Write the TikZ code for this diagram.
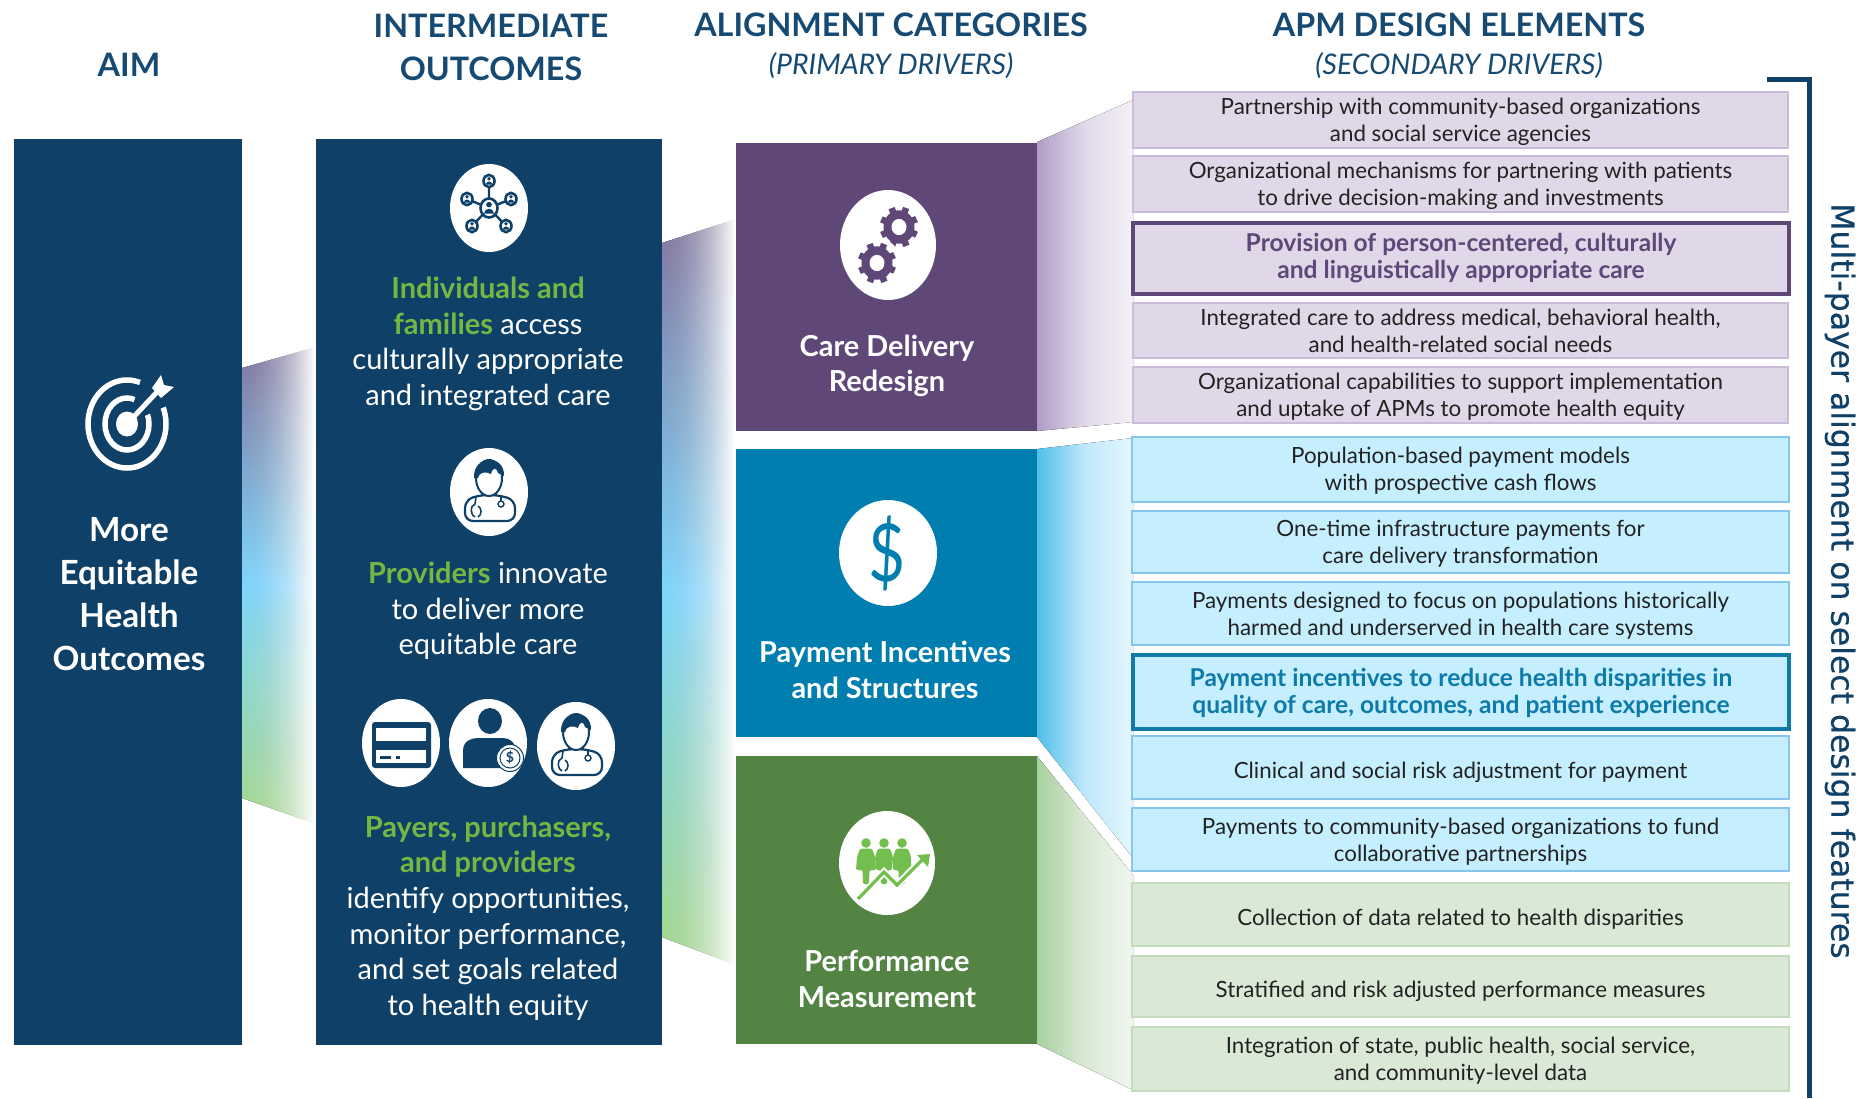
\documentclass[tikz,border=0pt]{standalone}
\usepackage{fontspec}
\setmainfont{Lato}
\newfontfamily\rotfont[FakeBold=0.5]{DejaVu Sans}
\usetikzlibrary{calc}
\definecolor{navy}{HTML}{0F4067}
\definecolor{headc}{HTML}{174A72}
\definecolor{carec}{HTML}{5F4778}
\definecolor{payc}{HTML}{007EB0}
\definecolor{perfc}{HTML}{548443}
\definecolor{tgreen}{HTML}{74B843}
\definecolor{igreen}{HTML}{72BF4D}
\definecolor{pfill}{HTML}{E0D8E8}
\definecolor{pline}{HTML}{C9BBD9}
\definecolor{bfill}{HTML}{C5EFFE}
\definecolor{bline}{HTML}{86C5EE}
\definecolor{gfill}{HTML}{DAE9D6}
\definecolor{gline}{HTML}{C2DCBD}
\definecolor{btext}{HTML}{0D7AAA}
\definecolor{bodytext}{HTML}{222222}
\definecolor{purplemix}{HTML}{85779F}
\definecolor{skymix}{HTML}{7FD6FA}
\definecolor{greenmix}{HTML}{A6D88C}
\definecolor{pa}{HTML}{B09CC7}
\definecolor{pb}{HTML}{E0D9E9}
\definecolor{pc}{HTML}{F4F1F7}
\definecolor{ba}{HTML}{50BFE9}
\definecolor{bb}{HTML}{BFE8FA}
\definecolor{bc}{HTML}{E4F6FD}
\definecolor{ga}{HTML}{A8D09F}
\definecolor{gb}{HTML}{D9E9D5}
\definecolor{gc}{HTML}{F0F6EE}
\tikzset{
  x=1pt,y=-1pt,
  headtxt/.style={text=headc,font=\fontsize{32.3}{43}\selectfont\bfseries,align=center,inner sep=0},
  subtxt/.style={text=headc,font=\fontsize{28.4}{30}\selectfont\itshape,align=center,inner sep=0},
  aimtxt/.style={text=white,font=\fontsize{33.3}{43}\selectfont\bfseries,align=center,inner sep=0},
  outtxt/.style={text=white,font=\fontsize{29}{35.6}\selectfont,align=center,inner sep=0},
  cattxt/.style={text=white,font=\fontsize{28.9}{35.5}\selectfont\bfseries,align=center,inner sep=0},
  itemtxt/.style={font=\fontsize{22.35}{27}\selectfont,text=bodytext,align=center,inner sep=0},
  boldtxt/.style={itemtxt,font=\fontsize{24.6}{27}\selectfont\bfseries},
  pbox/.style={fill=pfill,draw=pline,line width=1.5pt},
  bbox/.style={fill=bfill,draw=bline,line width=1.5pt},
  gbox/.style={fill=gfill,draw=gline,line width=1.5pt},
  phigh/.style={fill=pfill,draw=carec,line width=3.3pt},
  bhigh/.style={fill=bfill,draw=btext,line width=3.3pt},
  colfill/.style={inner sep=0},
}
\newcommand{\gb}[1]{\textcolor{tgreen}{\bfseries #1}}
\newcommand{\rbox}[7]{\node[#2,inner sep=0,minimum width={#5-#3},minimum height={#6-#4}] (#1) at ({(#3+#5)/2},{(#4+#6)/2}) {#7};}
\newcommand{\ibox}[9]{\rbox{#1}{#2}{#3}{#4}{#5}{#6}{}\node[#7] (#1t) at ([yshift=-#8pt]#1.center) {#9};}
% band: x0,x1,top y at x0,top y at x1,bottom y at x0,bottom y at x1; white veils pile up towards the right
\newcommand{\fadeband}[6]{%
  \fill[top color=purplemix,bottom color=greenmix,middle color=skymix] (#1,#3) -- (#2,#4) -- (#2,#6) -- (#1,#5) -- cycle;
  \foreach \i in {0,...,36}{%
    \pgfmathsetmacro\veil{1-(1-pow((\i+1)/37,1.6))/(1-pow(\i/37,1.6))}%
    \fill[white,fill opacity=\veil] ({#1+(#2-#1)*\i/37},{min(#3,#4)-2}) rectangle (#2+1,{max(#5,#6)+2});
  }}
\newcommand{\gearic}[4]{%
  \begin{scope}[shift={(#1,#2)},yscale=1.08]
  \fill[white] (0,0) circle[radius=#3+3.5];
  \foreach \a in {0,45,...,315}{\draw[#4,line width=6.5pt] (0,0) -- (\a+22:#3-1);}
  \fill[#4] (0,0) circle[radius=#3-4.5];
  \fill[white] (0,0) circle[radius=7.5];
  \end{scope}}
\newcommand{\docic}[2]{%
  \begin{scope}[shift={(#1,#2)}]
  \fill[white] (0,0) circle[x radius=39,y radius=44];
  \draw[navy,line width=2.2pt,rounded corners=8pt,fill=white] (-24,29) -- (-24,8) -- (-9,3) -- (9,3) -- (26,8) -- (26,29) -- cycle;
  \draw[navy,line width=2pt] (-7,-3) -- (-7,4) (7,-3) -- (7,4);
  \draw[navy,line width=2pt,fill=white] (0,-14) circle[x radius=13,y radius=18];
  \fill[navy] (-15,-14) .. controls (-16,-38) and (16,-38) .. (15,-16) -- (9,-19) .. controls (8,-24) and (4,-26) .. (2,-18) .. controls (-3,-21) and (-10,-20) .. (-11,-14) -- cycle;
  \draw[navy,line width=1.6pt] (-13,5) -- (-14,12) .. controls (-20,14) and (-18,24) .. (-14,25) (-11,14) .. controls (-7,16) and (-7,23) .. (-11,25);
  \draw[navy,line width=1.6pt] (12,5) -- (12,9);
  \draw[navy,line width=1.4pt] (12,12) circle[radius=3];
  \end{scope}}
\newcommand{\minip}[3]{%
  \draw[navy,line width=2.6pt,fill=white] (#1,#2) circle[x radius=#3,y radius=#3*1.12];
  \fill[navy] (#1,{#2-#3*.4}) circle[radius=#3*.33];
  \fill[navy] ({#1-#3*.6},{#2+#3*.65}) .. controls ({#1-#3*.5},{#2-#3*.1}) and ({#1+#3*.5},{#2-#3*.1}) .. ({#1+#3*.6},{#2+#3*.65}) -- cycle;}
\newcommand{\perfperson}[3]{%
  \fill[igreen] (#1,#2) circle[radius=4.8];
  \fill[igreen,rounded corners=1.5pt] ({#1-6},{#2+5.5}) -- ({#1+6},{#2+5.5}) -- ({#1+9},{#2+14}) -- ({#1+#3},{#2+27}) -- ({#1+3.5},{#2+27}) -- ({#1+3},{#2+41}) -- ({#1-3},{#2+41}) -- ({#1-3.5},{#2+27}) -- ({#1-#3},{#2+27}) -- ({#1-9},{#2+14}) -- cycle;}
\begin{document}
\begin{tikzpicture}
\useasboundingbox (0,0) rectangle (1860,1098);
\fill[white] (0,0) rectangle (1860,1098);
% gradient bands
\fadeband{242}{316}{368}{347}{798}{824}
\fadeband{662}{736}{243}{219}{937}{965}
\fill[left color=pa,right color=pc,middle color=pb] (1037,142) -- (1133,100) -- (1133,422) -- (1037,431) -- cycle;
\fill[left color=ba,right color=bc,middle color=bb] (1037,449) -- (1133,438) -- (1133,858) -- (1037,737) -- cycle;
\fill[left color=ga,right color=gc,middle color=gb] (1037,756) -- (1133,875) -- (1133,1090) -- (1037,1044) -- cycle;
% columns
\rbox{aimb}{fill=navy,colfill}{14}{139}{242}{1045}{}
\rbox{outb}{fill=navy,colfill}{316}{139}{662}{1045}{}
\rbox{careb}{fill=carec,colfill}{736}{143}{1037}{431}{}
\rbox{payb}{fill=payc,colfill}{736}{449}{1037}{737}{}
\rbox{perfb}{fill=perfc,colfill}{736}{756}{1037}{1044}{}
% headers
\node[headtxt] (h1) at (129,65) {AIM};
\node[headtxt] (h2) at (491,47) {INTERMEDIATE\\OUTCOMES};
\node[headtxt] (h3) at (891,25) {ALIGNMENT CATEGORIES};
\node[subtxt] (h3s) at (891,66) {(PRIMARY DRIVERS)};
\node[headtxt] (h4) at (1459,25) {APM DESIGN ELEMENTS};
\node[subtxt] (h4s) at (1459,66) {(SECONDARY DRIVERS)};
% left text
\node[aimtxt] (aimt) at (129,594) {More\\Equitable\\Health\\Outcomes};
\node[outtxt] (o1) at (488,344) {\gb{Individuals and}\\\gb{families} access\\culturally appropriate\\and integrated care};
\node[outtxt] (o2) at (488,611) {\gb{Providers} innovate\\to deliver more\\equitable care};
\node[outtxt] (o3) at (488,918) {\gb{Payers, purchasers,}\\\gb{and providers}\\identify opportunities,\\monitor performance,\\and set goals related\\to health equity};
% categories
\node[cattxt] (c1) at (887,366) {Care Delivery\\Redesign};
\node[cattxt] (c2) at (885,670) {Payment Incentives\\and Structures};
\node[cattxt] (c3) at (887,979) {Performance\\Measurement};
% right boxes
\ibox{p1}{pbox}{1133}{92}{1788}{148}{itemtxt}{2}{Partnership with community-based organizations\\and social service agencies}
\ibox{p2}{pbox}{1133}{156}{1788}{212}{itemtxt}{2}{Organizational mechanisms for partnering with patients\\to drive decision-making and investments}
\ibox{p3}{phigh}{1133}{223}{1789}{294}{boldtxt,text=carec}{0}{Provision of person-centered, culturally\\and linguistically appropriate care}
\ibox{p4}{pbox}{1133}{303}{1788}{358}{itemtxt}{0}{Integrated care to address medical, behavioral health,\\and health-related social needs}
\ibox{p5}{pbox}{1133}{367}{1788}{423}{itemtxt}{2}{Organizational capabilities to support implementation\\and uptake of APMs to promote health equity}
\ibox{b1}{bbox}{1132}{437}{1789}{502}{itemtxt}{1}{Population-based payment models\\with prospective cash flows}
\ibox{b2}{bbox}{1132}{511}{1789}{573}{itemtxt}{2}{One-time infrastructure payments for\\care delivery transformation}
\ibox{b3}{bbox}{1132}{582}{1789}{645}{itemtxt}{2}{Payments designed to focus on populations historically\\harmed and underserved in health care systems}
\ibox{b4}{bhigh}{1133}{655}{1789}{729}{boldtxt,text=btext}{1}{Payment incentives to reduce health disparities in\\quality of care, outcomes, and patient experience}
\ibox{b5}{bbox}{1132}{736}{1789}{799}{itemtxt}{4.5}{Clinical and social risk adjustment for payment}
\ibox{b6}{bbox}{1132}{808}{1789}{871}{itemtxt}{2}{Payments to community-based organizations to fund\\collaborative partnerships}
\ibox{g1}{gbox}{1132}{883}{1789}{946}{itemtxt}{4.5}{Collection of data related to health disparities}
\ibox{g2}{gbox}{1132}{956}{1789}{1017}{itemtxt}{4.5}{Stratified and risk adjusted performance measures}
\ibox{g3}{gbox}{1132}{1027}{1789}{1091}{itemtxt}{2}{Integration of state, public health, social service,\\and community-level data}
% bracket
\draw[navy,line width=5pt] (1767,79) -- (1809,79) -- (1809,1098);
\node[rotate=-90,text=navy,font=\rotfont\fontsize{31.5}{34}\selectfont,inner sep=0] (rt) at (1840,581) {Multi-payer alignment on select design features};
% target icon
\begin{scope}[shift={(127,424)}]
  \draw[white,line width=5.5pt] (0,0) circle[x radius=39,y radius=44];
  \draw[white,line width=5.5pt] (0,0) circle[x radius=22,y radius=26];
  \fill[navy] (0,0) -- (70,-32) -- (22,-70) -- cycle;
  \fill[white] (0,0) circle[x radius=11,y radius=12.5];
  \draw[white,line width=5pt] (0,0) -- (30,-32);
  \fill[white] (25,-36) -- (34,-49) -- (37,-39) -- (47,-37) -- (34,-26) -- cycle;
\end{scope}
% network icon
\begin{scope}[shift={(489,208)}]
  \fill[white] (0,0) circle[x radius=39,y radius=44];
  \draw[navy,line width=2.4pt] (0,0) -- (0,-27) (0,0) -- (-22,-9) (0,0) -- (22,-9) (0,0) -- (-17,18) (0,0) -- (17,18);
  \minip{0}{-27}{5.5}
  \minip{-22}{-9}{5.5}
  \minip{22}{-9}{5.5}
  \minip{-17}{18}{5.5}
  \minip{17}{18}{5.5}
  \minip{0}{0}{8.5}
\end{scope}
\docic{489}{492}
% card icon
\begin{scope}[shift={(401,743)}]
  \fill[white] (0,0) circle[x radius=39,y radius=44];
  \fill[navy,rounded corners=3pt] (-29,-21) rectangle (30,25);
  \fill[white] (-25,-15) rectangle (25,-2);
  \fill[white] (-25,7) rectangle (25,20);
  \fill[navy] (-21,13) rectangle (-10,15.5);
  \fill[navy] (-5,13) rectangle (-1,15.5);
\end{scope}
% person with coin
\begin{scope}[shift={(488,743)}]
  \fill[white] (0,0) circle[x radius=39,y radius=44];
  \fill[navy] (2,-22) circle[x radius=12,y radius=13];
  \fill[navy] (-25,25) -- (-25,8) .. controls (-25,-2) and (-17,-5) .. (-10,-5) -- (15,-5) .. controls (22,-5) and (28,0) .. (28,8) -- (28,25) -- cycle;
  \draw[navy,line width=1pt,fill=white] (22,15) circle[radius=13.5];
  \draw[navy,line width=1pt] (22,15) circle[radius=10];
  \node[text=navy,font=\fontsize{14}{14}\selectfont\bfseries,inner sep=0] (coin) at (22,15) {\$};
\end{scope}
\docic{576}{746}
% category icons
\fill[white] (888,245) circle[x radius=48,y radius=55];
\gearic{899}{227}{20}{carec}
\gearic{877}{263}{20}{carec}
\fill[white] (888,553) circle[x radius=49,y radius=53];
\node[text=payc,xscale=.8,font=\fontsize{80}{80}\selectfont,inner sep=0] (dollar) at (887,553) {\$};
\begin{scope}[shift={(890,863)}]
  \fill[white] (-3,0) circle[x radius=48,y radius=52];
  \perfperson{-24}{-20}{10}
  \perfperson{-6}{-20}{8}
  \perfperson{12}{-20}{9}
  \draw[white,line width=7pt] (-32,36) -- (-6,9) -- (7,22) -- (35,-6);
  \draw[igreen,line width=3.2pt] (-32,36) -- (-6,9) -- (7,22) -- (35,-6);
  \fill[igreen] (40,-9) -- (27,-8) -- (38,4) -- cycle;
\end{scope}
\end{tikzpicture}
\end{document}
